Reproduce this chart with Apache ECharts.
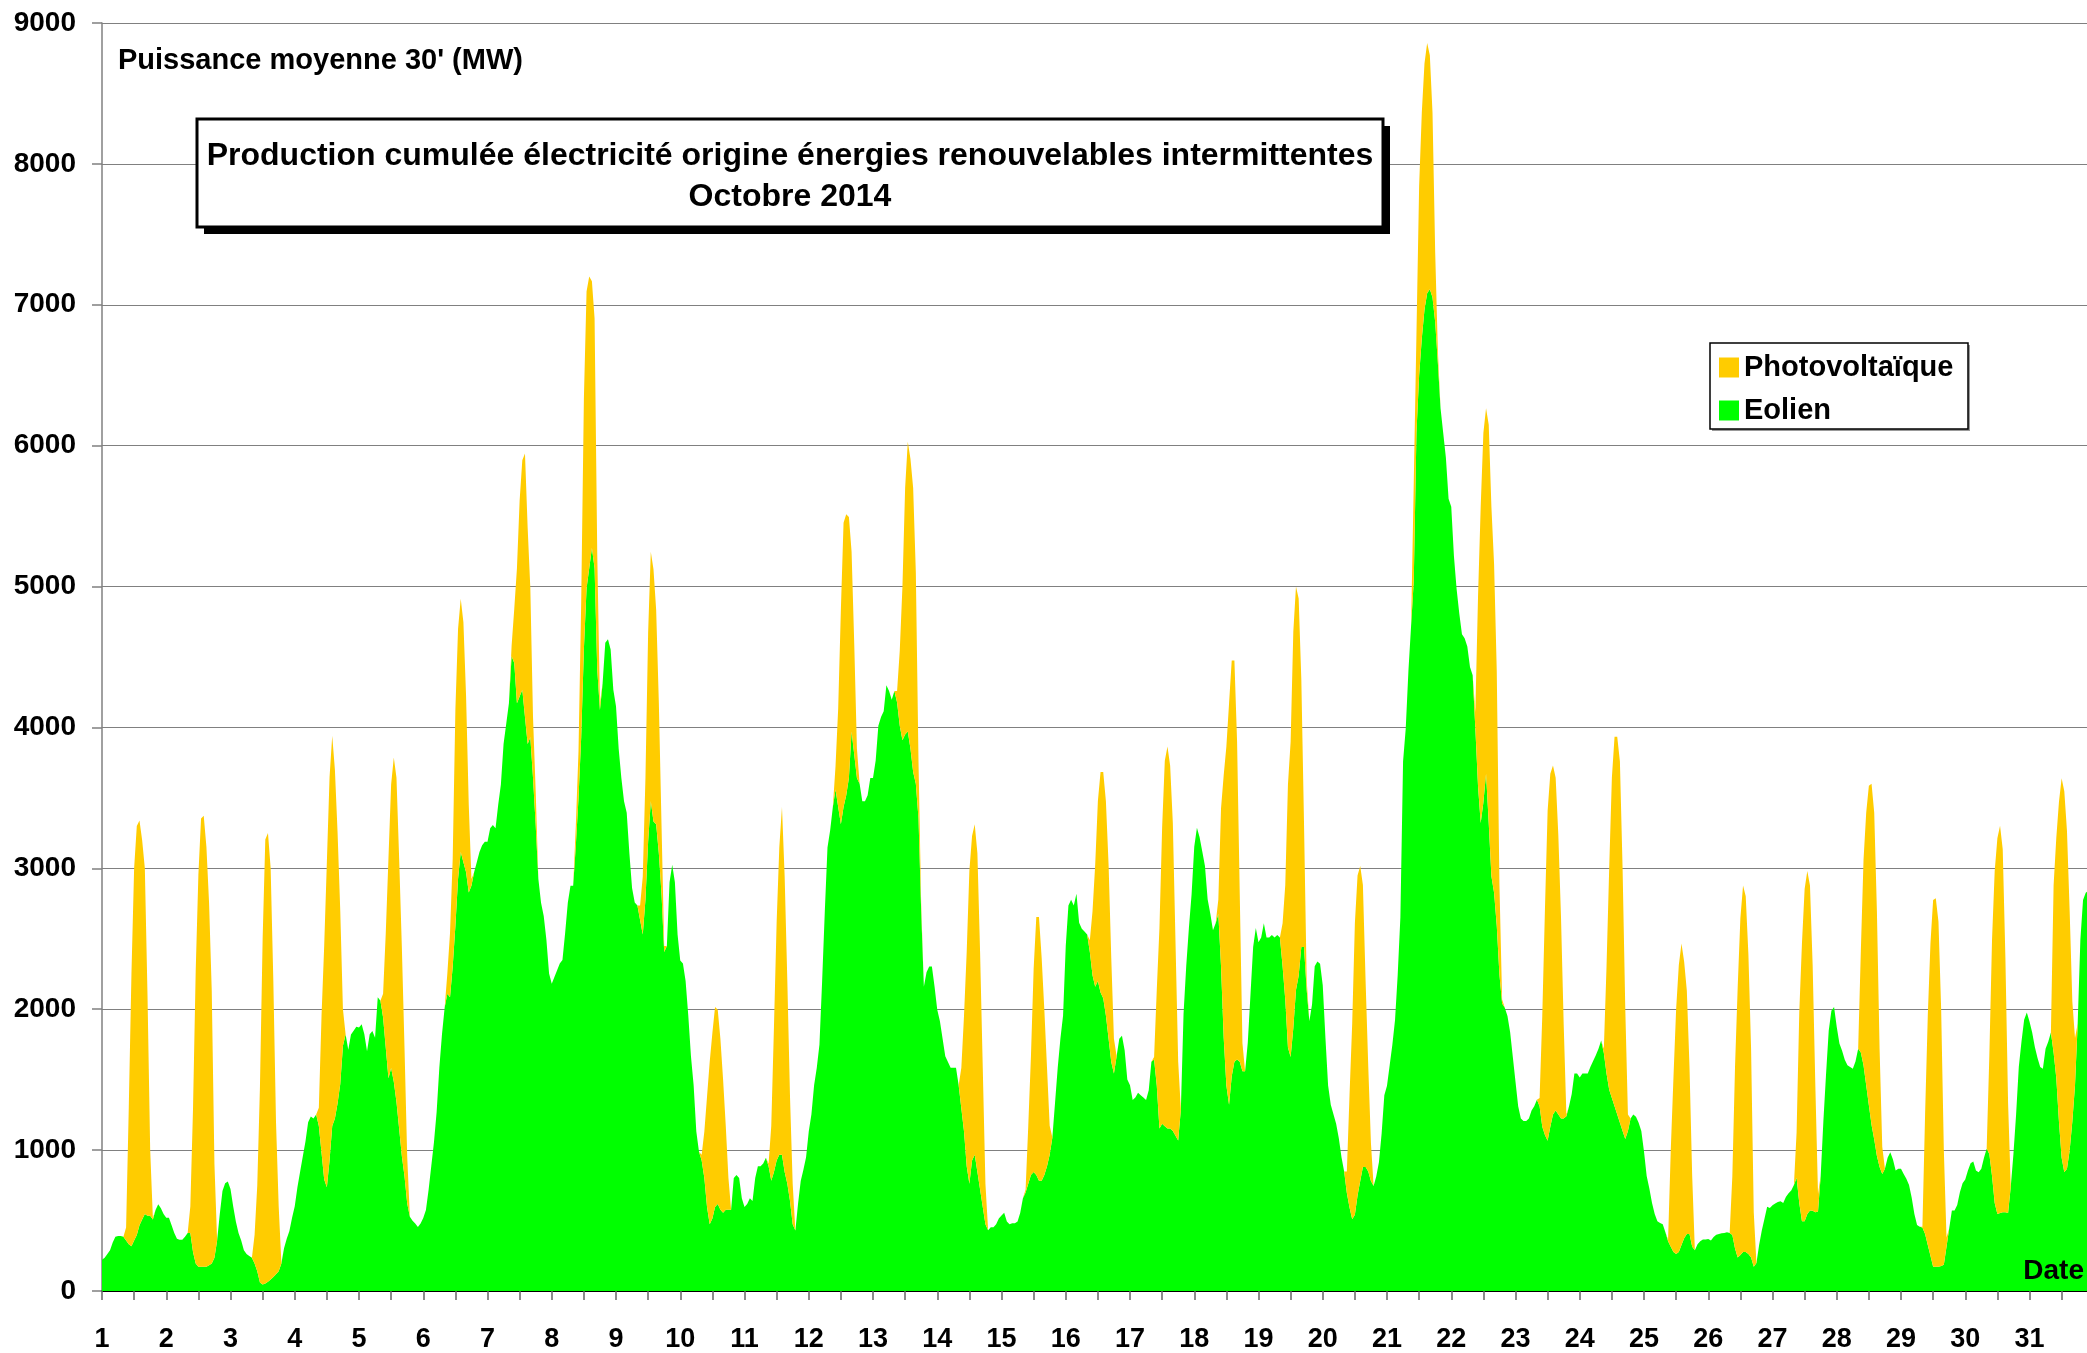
<!DOCTYPE html>
<html>
<head>
<meta charset="utf-8">
<title>Production cumulée électricité origine énergies renouvelables intermittentes - Octobre 2014</title>
<script src="https://cdn.jsdelivr.net/npm/echarts@6/dist/echarts.min.js"></script>
<style>
html, body { margin: 0; padding: 0; background: #fff; }
#chart { width: 2087px; height: 1353px; }
</style>
</head>
<body>
<div id="chart"></div>
<script>
// Eolien (MW) : une ligne par jour d'octobre, valeurs de 0h a 23h
var eolien = [
	[222,236,263,290,344,385,390,390,385,358,331,317,358,398,466,507,547,534,534,507,575,615,588,547],
	[520,520,466,412,371,363,363,385,412,412,276,195,173,173,173,173,182,195,236,358,547,710,764,778],
	[724,602,493,412,358,290,263,249,236,195,141,60,46,54,65,81,100,119,141,195,304,371,425,520],
	[602,737,846,954,1062,1198,1238,1225,1252,1171,981,791,737,927,1171,1225,1333,1469,1740,1821,1713,1821,1848,1875],
	[1870,1894,1822,1702,1822,1846,1798,2085,2061,1942,1726,1510,1582,1486,1342,1151,959,815,623,527,499,479,455,479],
	[518,575,719,887,1055,1270,1582,1822,2013,2109,2085,2301,2589,2924,3116,3044,2972,2828,2876,2972,3044,3116,3164,3188],
	[3188,3284,3308,3284,3452,3595,3883,4027,4171,4506,4458,4171,4219,4267,4075,3883,3931,3643,3308,2924,2756,2661,2493,2253],
	[2181,2229,2277,2325,2349,2541,2756,2876,2876,3164,3500,3931,4554,4986,5130,5273,5130,4410,4123,4314,4602,4626,4554,4267],
	[4150,3848,3642,3477,3395,3107,2860,2757,2736,2634,2531,2777,3189,3477,3333,3313,3107,2819,2407,2448,2901,3025,2901,2531],
	[2345,2325,2201,1955,1667,1461,1132,988,926,802,597,473,514,597,617,576,556,576,576,576,802,823,802,658],
	[597,617,658,638,802,885,885,905,946,885,782,844,926,967,967,844,761,638,473,430,620,780,860,950],
	[1132,1255,1461,1584,1749,2201,2695,3148,3271,3436,3560,3436,3313,3436,3518,3642,3971,3806,3642,3600,3477,3477,3518,3642],
	[3642,3765,4012,4074,4115,4300,4259,4197,4259,4177,4012,3909,3950,3971,3848,3683,3600,3354,2695,2160,2263,2304,2304,2160],
	[1996,1914,1790,1667,1625,1584,1584,1584,1461,1296,1132,885,761,926,967,844,720,597,473,432,453,453,473,514],
	[535,556,494,473,481,481,494,556,658,700,761,823,844,823,782,782,823,885,967,1090,1337,1584,1790,1955],
	[2448,2736,2777,2736,2819,2613,2572,2552,2531,2407,2242,2160,2201,2119,2078,1955,1790,1625,1543,1667,1790,1811,1708,1502],
	[1460,1356,1373,1407,1390,1373,1356,1424,1627,1644,1458,1153,1187,1170,1153,1153,1136,1102,1068,1288,1966,2305,2576,2814],
	[3153,3288,3220,3119,3017,2780,2678,2560,2610,2678,2305,1797,1458,1322,1525,1627,1644,1627,1559,1559,1763,2102,2441,2576],
	[2475,2509,2610,2509,2509,2526,2509,2526,2509,2305,2068,1729,1661,1865,2136,2237,2441,2441,2136,1915,2034,2305,2339,2322],
	[2170,1797,1458,1322,1254,1187,1085,949,848,695,593,509,542,678,780,881,881,848,780,746,814,915,1119,1390],
	[1457,1603,1748,1923,2244,2652,3759,3992,4400,4721,5041,6090,6498,6760,6965,7081,7110,7052,6877,6586,6265,6090,5915,5624],
	[5566,5216,4983,4808,4662,4633,4575,4429,4371,3992,3584,3322,3468,3672,3322,2943,2827,2593,2244,2040,2011,1952,1836,1661],
	[1486,1311,1224,1206,1206,1224,1282,1311,1358,1311,1166,1107,1067,1166,1253,1282,1253,1224,1224,1241,1311,1399,1544,1544],
	[1515,1544,1544,1544,1591,1632,1673,1719,1778,1690,1544,1428,1370,1311,1253,1195,1136,1078,1136,1224,1253,1236,1195,1136],
	[990,817,727,624,546,495,482,474,417,353,314,276,263,276,327,374,405,405,314,289,332,353,366,366],
	[369,358,384,400,405,410,412,417,412,397,302,237,255,276,276,263,237,173,198,327,430,513,598,590],
	[608,621,631,637,624,667,693,714,752,804,624,495,495,546,572,570,559,564,817,1203,1538,1848,1989,2015],
	[1873,1757,1706,1641,1603,1590,1577,1629,1719,1693,1603,1461,1319,1178,1075,959,881,830,868,946,984,933,856,868],
	[868,830,796,752,662,546,469,456,451,405,327,250,173,173,173,178,186,314,443,572,572,611,701,765],
	[791,856,907,920,856,843,868,946,1010,972,817,624,546,554,559,559,554,740,972,1255,1590,1770,1925,1977],
	[1912,1835,1732,1654,1590,1577,1719,1770,1835,1693,1513,1203,946,843,868,997,1203,1461,1899,2492,2775,2827,2840,2850]
];

// Photovoltaique (MW) : une ligne par jour, valeurs de 8h a 19h (0 la nuit)
var pvHeureDebut = 8;
var photovoltaique = [
	[0,92,969,1933,2642,2902,2874,2693,2453,1566,466,13],
	[0,190,1020,2075,2780,3180,3200,2980,2570,1935,665,0],
	[0,205,610,1390,2450,3150,3185,2920,2100,1080,460,5],
	[0,130,970,1660,2310,2720,2770,2475,1920,1230,260,0],
	[0,167,815,1558,2013,2301,2301,1917,1486,911,336,0],
	[0,144,456,767,1534,1774,1798,1702,1247,624,48,0],
	[0,72,384,959,1390,1629,1869,1534,1055,432,239,0],
	[0,144,335,959,1774,2109,2070,1894,1773,815,48,0],
	[0,102,411,865,1482,1770,1790,1522,1070,494,41,0],
	[41,330,781,1152,1317,1419,1379,1214,946,597,226,0],
	[0,20,391,1028,1687,2181,2469,2098,1440,740,288,0],
	[0,0,164,700,1522,2017,1996,1852,1276,782,206,0],
	[0,82,535,1091,1749,2057,2057,2016,1500,400,50,0],
	[0,288,823,1522,2222,2304,2346,2263,1687,987,288,0],
	[0,20,412,844,1440,1831,1872,1584,1173,699,206,0],
	[0,83,453,865,1276,1564,1605,1522,1235,741,247,0],
	[0,17,678,1423,2101,2593,2712,2576,2186,1373,559,0],
	[0,100,1119,1864,2407,2848,2950,2848,2254,1187,200,0],
	[0,305,813,1864,2237,2813,2864,2679,1898,881,67,0],
	[0,153,797,1389,2068,2271,2237,2000,1322,745,271,0],
	[0,0,700,700,1341,1603,1748,1777,1661,1311,495,87],
	[0,117,1341,2244,2622,2593,2827,2623,2331,1807,641,29],
	[0,59,786,1603,2342,2506,2477,2361,1982,1428,670,12],
	[0,29,758,1573,2273,2623,2681,2564,1865,933,117,0],
	[0,13,686,1237,1737,2036,2139,1963,1726,1185,503,0],
	[0,420,1288,1920,2391,2603,2525,2126,1482,386,0,0],
	[0,322,1353,1971,2358,2435,2307,1742,902,124,0,0],
	[0,722,1456,1933,2268,2422,2319,1739,838,193,0,0],
	[5,850,1623,2216,2602,2615,2448,1822,814,65,0,0],
	[0,700,1675,2357,2667,2749,2577,1804,781,0,0,0],
	[0,1185,1700,2268,2693,2705,2397,1701,851,335,0,0]
];

var titre = ['Production cumulée électricité origine énergies renouvelables intermittentes', 'Octobre 2014'];
var police = '"Liberation Sans", Arial, sans-serif';
var pxParHeure = 64.25 / 24; // largeur d'une heure sur l'axe (le graphique d'origine est coupe vers le 31 a 21h)

// une categorie par heure : "jour heure"
var heures = [];
var dataEolien = [];
var dataPV = [];
for (var j = 0; j < eolien.length; j++) {
	for (var h = 0; h < 24; h++) {
		var k = h - pvHeureDebut;
		heures.push((j + 1) + ' ' + h);
		dataEolien.push(eolien[j][h]);
		dataPV.push((k >= 0 && k < photovoltaique[j].length) ? photovoltaique[j][k] : 0);
	}
}

var chart = echarts.init(document.getElementById('chart'));

var option = {
	animation: false,
	backgroundColor: '#ffffff',
	grid: {
		left: 102,
		top: 23,
		width: (heures.length - 1) * pxParHeure,
		height: 1268,
		containLabel: false,
		outerBoundsMode: 'none'
	},
	legend: {
		data: ['Photovoltaïque', 'Eolien'],
		orient: 'vertical',
		left: 1719,
		top: 353,
		padding: 0,
		itemGap: 14,
		itemWidth: 20,
		itemHeight: 20,
		icon: 'rect',
		selectedMode: false,
		textStyle: {
			fontFamily: police,
			fontSize: 29,
			fontWeight: 'bold',
			color: '#000'
		}
	},
	xAxis: {
		type: 'category',
		data: heures,
		boundaryGap: false,
		axisLine: { show: true, lineStyle: { color: '#000', width: 2 } },
		axisTick: {
			show: true,
			length: 9,
			interval: function (i) { return i % 12 === 0; }, // un trait toutes les 12h
			lineStyle: { color: '#666', width: 1.5 }
		},
		splitLine: { show: false },
		axisLabel: {
			margin: 35,
			fontFamily: police,
			fontSize: 27,
			fontWeight: 'bold',
			color: '#000',
			interval: function (i) { return i % 24 === 0; },
			formatter: function (v) { return v.split(' ')[0]; }
		}
	},
	yAxis: {
		type: 'value',
		min: 0,
		max: 9000,
		interval: 1000,
		axisLine: { show: true, lineStyle: { color: '#808080', width: 1.5 } },
		axisTick: { show: true, length: 10, lineStyle: { color: '#808080', width: 1.5 } },
		splitLine: { show: true, lineStyle: { color: '#808080', width: 1.2 } },
		axisLabel: {
			margin: 26,
			fontFamily: police,
			fontSize: 28,
			fontWeight: 'bold',
			color: '#000',
			formatter: function (v) { return String(v); }
		}
	},
	series: [
		{
			name: 'Eolien',
			type: 'line',
			stack: 'total',
			data: dataEolien,
			showSymbol: false,
			symbol: 'none',
			color: '#00ff00',
			lineStyle: { width: 0, color: '#00ff00' },
			itemStyle: { color: '#00ff00' },
			areaStyle: { color: '#00ff00', opacity: 1 },
			z: 2
		},
		{
			name: 'Photovoltaïque',
			type: 'line',
			stack: 'total',
			data: dataPV,
			showSymbol: false,
			symbol: 'none',
			color: '#ffcc00',
			lineStyle: { width: 0, color: '#ffcc00' },
			itemStyle: { color: '#ffcc00' },
			areaStyle: { color: '#ffcc00', opacity: 1 },
			z: 2
		}
	],
	graphic: [
		// cadre du titre avec ombre
		{ type: 'rect', z: 50, shape: { x: 204, y: 126, width: 1186, height: 108 }, style: { fill: '#000' } },
		{ type: 'rect', z: 51, shape: { x: 197, y: 119, width: 1186, height: 108 }, style: { fill: '#fff', stroke: '#000', lineWidth: 3 } },
		{ type: 'text', z: 52, x: 790, y: 156, style: { text: titre[0], font: 'bold 32px ' + police, fill: '#000', textAlign: 'center', textVerticalAlign: 'middle' } },
		{ type: 'text', z: 52, x: 790, y: 197, style: { text: titre[1], font: 'bold 32px ' + police, fill: '#000', textAlign: 'center', textVerticalAlign: 'middle' } },
		// cadre de la legende
		{ type: 'rect', z: 3, shape: { x: 1712, y: 345, width: 258, height: 86 }, style: { fill: '#999' } },
		{ type: 'rect', z: 3, shape: { x: 1710, y: 343, width: 258, height: 86 }, style: { fill: '#fff', stroke: '#000', lineWidth: 1.5 } },
		// libelles des axes
		{ type: 'text', z: 52, x: 118, y: 61, style: { text: "Puissance moyenne 30' (MW)", font: 'bold 29px ' + police, fill: '#000', textAlign: 'left', textVerticalAlign: 'middle' } },
		{ type: 'text', z: 52, x: 2084, y: 1271, style: { text: 'Date', font: 'bold 28px ' + police, fill: '#000', textAlign: 'right', textVerticalAlign: 'middle' } }
	]
};

chart.setOption(option);
window.onresize = chart.resize;
</script>
</body>
</html>
